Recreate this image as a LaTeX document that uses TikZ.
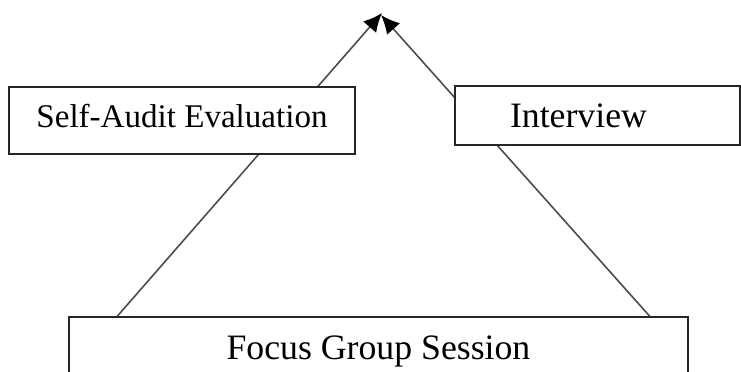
\documentclass[tikz,border=0pt]{standalone}
\usepackage{fontspec}
\setmainfont{Liberation Serif}
\usetikzlibrary{arrows.meta,backgrounds}
\begin{document}
\begin{tikzpicture}[x=0.75pt, y=-0.75pt,
    box/.style={draw=black!85, line width=1.1pt, fill=white, inner sep=0pt},
    link/.style={draw=black!70, line width=1.2pt, -{Latex[length=14pt,width=13pt,black]}}]
  \useasboundingbox (0,0) rectangle (741,371);
  \clip (0,0) rectangle (741,371);
  \node [box, minimum width=259.5pt, minimum height=50.25pt, text depth=7.5pt] (audit) at (182,120.5)
    {\fontsize{24.8}{30}\selectfont Self-Audit Evaluation};
  \node [box, minimum width=213.75pt, minimum height=44.25pt, text width=131.25pt, inner xsep=41.25pt, align=left] (interview) at (597.5,115.5)
    {\fontsize{26.8}{32}\selectfont Interview};
  \node [box, minimum width=464.25pt, minimum height=51pt] (focus) at (378.5,351)
    {\fontsize{26.8}{32}\selectfont Focus Group Session};
  \coordinate (tipL) at (382,13);
  \coordinate (tipR) at (381,15);
  \begin{scope}[on background layer]
    \draw [link] ([xshift=36.75pt]focus.north west) -- (tipL);
    \draw [link] ([xshift=-29.25pt]focus.north east) -- (tipR);
  \end{scope}
\end{tikzpicture}
\end{document}
